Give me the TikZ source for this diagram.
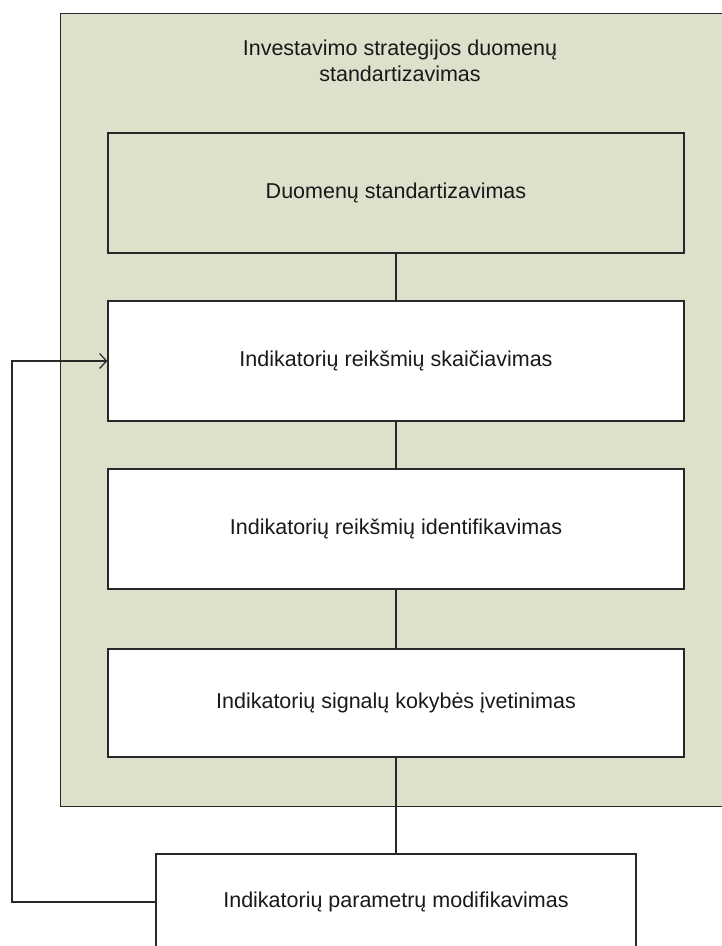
\documentclass[tikz,border=0pt]{standalone}
\usepackage{fontspec}
\setmainfont{Liberation Sans}
\usetikzlibrary{arrows.meta}
\definecolor{panelfill}{RGB}{221,224,203}
\definecolor{edge}{RGB}{40,40,40}
\begin{document}
\begin{tikzpicture}[x=1pt,y=-1pt,
  every node/.style={font=\fontsize{21.5}{26}\selectfont, text=black!90},
  stagebox/.style={draw=edge, line width=1.2pt, fill=white, minimum width=576pt, inner sep=0pt},
  link/.style={draw=edge, line width=1.2pt},
  feedback/.style={link, -{Straight Barb[length=7pt,width=15pt,line width=1.2pt]}}]
  \useasboundingbox (0,0) rectangle (721,946);
  % enclosing stage panel (runs past the right edge)
  \node[draw=edge, line width=1.2pt, fill=panelfill, minimum width=690pt, minimum height=793pt, inner sep=0pt, anchor=north west] (panel) at (60,13) {};
  \node[align=center] (title) at (400,61) {Investavimo strategijos duomenų\\standartizavimas};
  % processing steps
  \node[stagebox, fill=panelfill, minimum height=120pt] (b1) at (396,193) {Duomenų standartizavimas};
  \node[stagebox, minimum height=120pt] (b2) at (396,361) {Indikatorių reikšmių skaičiavimas};
  \node[stagebox, minimum height=120pt] (b3) at (396,529) {Indikatorių reikšmių identifikavimas};
  \node[stagebox, minimum height=108pt] (b4) at (396,703) {Indikatorių signalų kokybės įvetinimas};
  \node[stagebox, minimum width=480pt, minimum height=96pt] (b5) at (396,902) {Indikatorių parametrų modifikavimas};
  % connectors
  \draw[link] (b1.south) -- (b2.north);
  \draw[link] (b2.south) -- (b3.north);
  \draw[link] (b3.south) -- (b4.north);
  \draw[link] (b4.south) -- (b5.north);
  \coordinate (loop) at (12,902);
  \draw[feedback] (b5.west) -- (loop) |- (b2.west);
\end{tikzpicture}
\end{document}
